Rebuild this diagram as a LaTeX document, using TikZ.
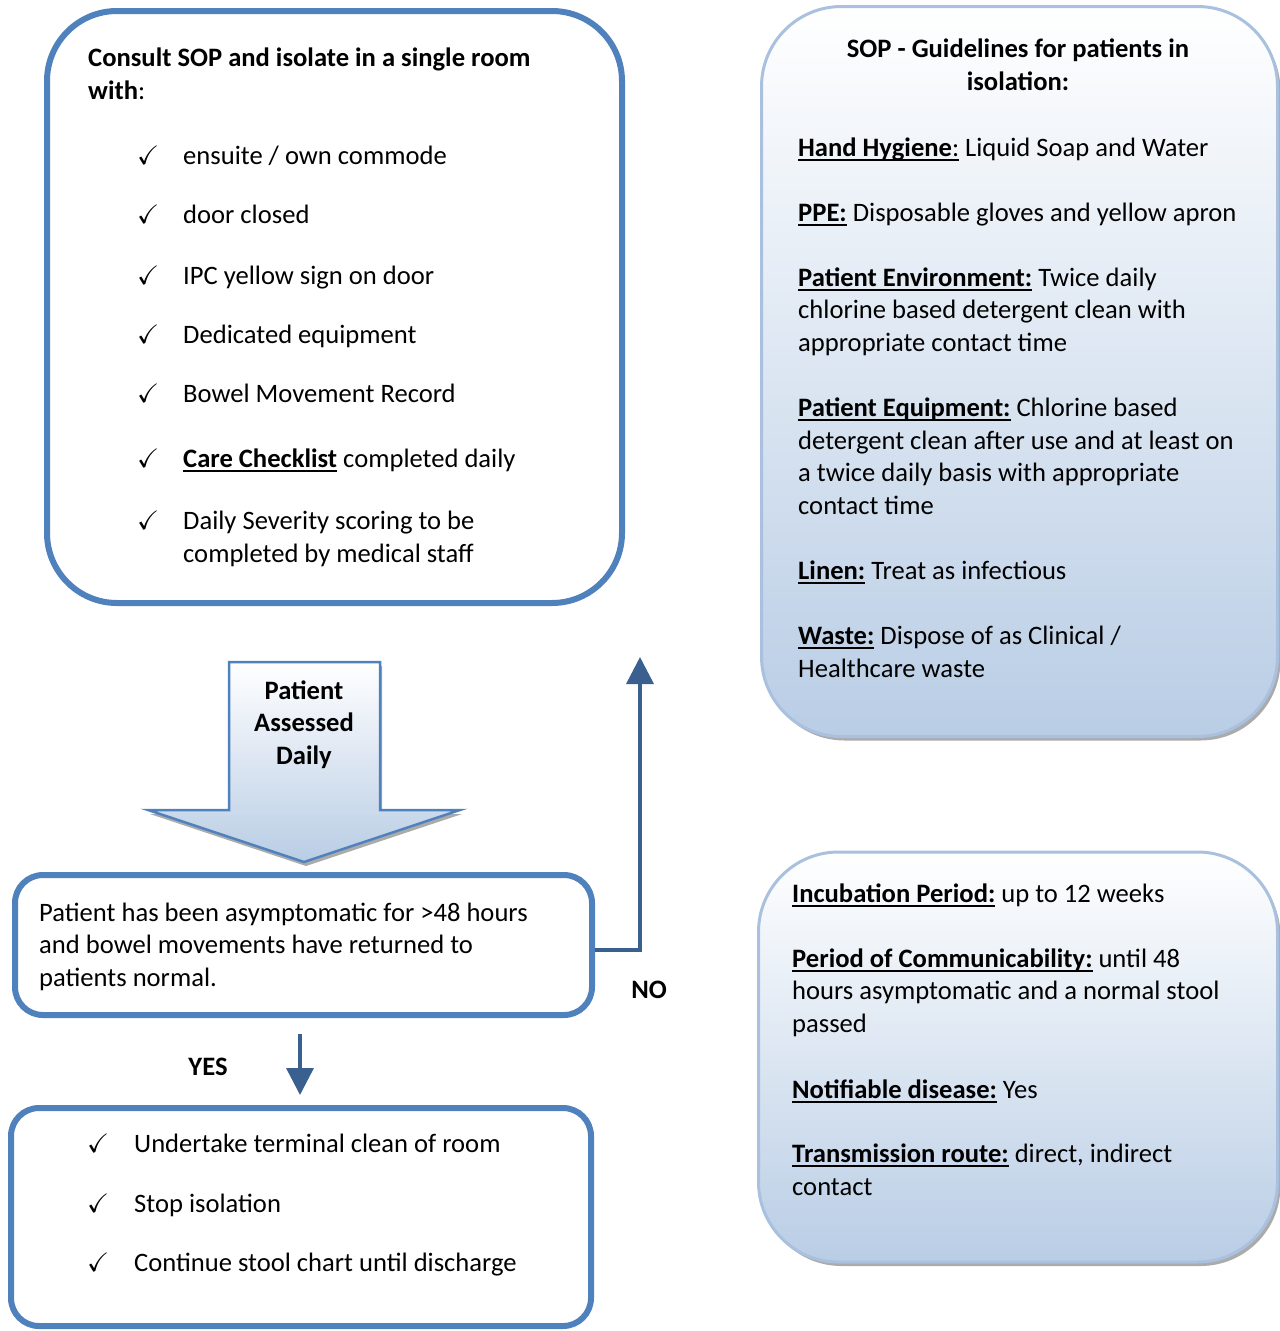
\documentclass[tikz,border=0pt]{standalone}
\usepackage{fontspec}
\setmainfont{Carlito}
\usepackage{amssymb}
\usetikzlibrary{arrows.meta,shadows,calc}
\definecolor{boxblue}{HTML}{4F81BD}
\definecolor{darkblue}{HTML}{3A6090}
\definecolor{paleblue}{HTML}{B9CDE5}
\definecolor{rimblue}{HTML}{A9C1DF}
\newsavebox{\ulbox}
\newcommand{\ul}[1]{\sbox{\ulbox}{#1}\rlap{\rule[-4.5pt]{\wd\ulbox}{2pt}}\usebox{\ulbox}}
\newcommand{\hd}[1]{\ul{\textbf{#1}}}
\newcommand{\tick}[1][46pt]{\makebox[#1][l]{$\checkmark$}}
\tikzset{mainbox/.style={draw=boxblue, line width=6pt, fill=white, inner sep=0pt},
  sopbox/.style={draw=rimblue, line width=3pt, rounded corners=80pt, inner sep=0pt,
    top color=white, bottom color=paleblue,
    drop shadow={shadow xshift=3pt, shadow yshift=-4pt, fill=black!55, opacity=0.6}},
  txt/.style={inner sep=0pt, anchor=base west, align=left},
  flow/.style={draw=darkblue, line width=3.5pt, -{Triangle[width=27pt,length=27pt]}}}

\begin{document}
\begin{tikzpicture}[x=1pt, y=-1pt, font=\fontsize{26.6pt}{32.5pt}\selectfont]
	\useasboundingbox (0,0) rectangle (1280,1331);
	% boxes
	\node[mainbox, rounded corners=70pt, minimum width=575pt, minimum height=592pt] (isolate) at (334.5,307) {};
	\node[mainbox, rounded corners=28pt, minimum width=577pt, minimum height=140pt] (check) at (303.5,945) {};
	\node[mainbox, rounded corners=28pt, minimum width=580pt, minimum height=218pt] (done) at (301,1217) {};
	\node[sopbox, minimum width=516pt, minimum height=730pt] (sop) at (1019.5,371.5) {};
	\node[sopbox, minimum width=519pt, minimum height=410pt] (facts) at (1018,1057) {};
	
	% isolation box (multi-line nodes sit on their last line)
	\node[txt] (iso title) at (88,99) {\textbf{Consult SOP and isolate in a single room}\\\textbf{with}:};
	\node[txt] (iso1) at (137,164) {\tick ensuite / own commode};
	\node[txt] (iso2) at (137,223) {\tick door closed};
	\node[txt] (iso3) at (137,284) {\tick IPC yellow sign on door};
	\node[txt] (iso4) at (137,343) {\tick Dedicated equipment};
	\node[txt] (iso5) at (137,402) {\tick Bowel Movement Record};
	\node[txt] (iso6) at (137,467) {\tick \hd{Care Checklist} completed daily};
	\node[txt] (iso7) at (137,562) {\tick Daily Severity scoring to be\\\hspace*{46pt}completed by medical staff};
	
	% daily assessment arrow
	\path[draw=boxblue, line width=2.5pt, top color=white, bottom color=paleblue,
	  drop shadow={shadow xshift=2pt, shadow yshift=-4pt, fill=black!55, opacity=0.6}]
	  (229,662) -- (380,662) -- (380,810) -- (460,810) -- (304,862) -- (148,810) -- (229,810) -- cycle;
	\node[inner sep=0pt, anchor=base, align=center, font=\fontsize{26.6pt}{32.5pt}\selectfont\bfseries] (assess) at (304,764) {Patient\\Assessed\\Daily};
	
	\node[txt] (check text) at (39,986) {Patient has been asymptomatic for >48 hours\\and bowel movements have returned to\\patients normal.};
	
	% outcome
	\coordinate (noend) at (640,657);
	\draw[flow] ([yshift=-5pt]check.east) -| (noend);
	\draw[flow] ([xshift=-3.5pt, yshift=-16pt]check.south) -- ([xshift=-1pt, yshift=10pt]done.north);
	\node[inner sep=0pt, anchor=base, font=\fontsize{26.6pt}{32.5pt}\selectfont\bfseries] (no) at (649,998) {NO};
	\node[inner sep=0pt, anchor=base, font=\fontsize{26.6pt}{32.5pt}\selectfont\bfseries] (yes) at (208,1075) {YES};
	
	\node[txt] (done1) at (87,1152) {\tick[47pt]Undertake terminal clean of room};
	\node[txt] (done2) at (87,1212) {\tick[47pt]Stop isolation};
	\node[txt] (done3) at (87,1271) {\tick[47pt]Continue stool chart until discharge};
	
	% SOP guidelines
	\node[inner sep=0pt, anchor=base, align=center, font=\fontsize{26.6pt}{32.5pt}\selectfont\bfseries] (sop title) at (1018,90) {SOP - Guidelines for patients in\\isolation:};
	\node[txt] (hands) at (798,156) {\ul{\textbf{Hand Hygiene}:} Liquid Soap and Water};
	\node[txt] (ppe) at (798,221) {\hd{PPE:} Disposable gloves and yellow apron};
	\node[txt] (environ) at (798,351) {\hd{Patient Environment:} Twice daily\\chlorine based detergent clean with\\appropriate contact time};
	\node[txt] (equip) at (798,514) {\hd{Patient Equipment:} Chlorine based\\detergent clean after use and at least on\\a twice daily basis with appropriate\\contact time};
	\node[txt] (linen) at (798,579) {\hd{Linen:} Treat as infectious};
	\node[txt] (waste) at (798,677) {\hd{Waste:} Dispose of as Clinical /\\Healthcare waste};
	
	% disease facts
	\node[txt] (incub) at (792,902) {\hd{Incubation Period:} up to 12 weeks};
	\node[txt] (commun) at (792,1032) {\hd{Period of Communicability:} until 48\\hours asymptomatic and a normal stool\\passed};
	\node[txt] (notify) at (792,1098) {\hd{Notifiable disease:} Yes};
	\node[txt] (route) at (792,1195) {\hd{Transmission route:} direct, indirect\\contact};
\end{tikzpicture}
\end{document}
